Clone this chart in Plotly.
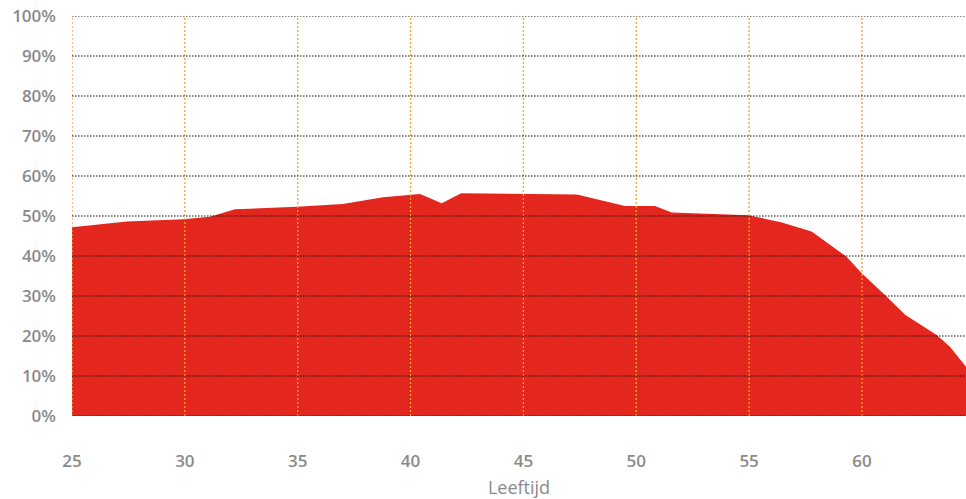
import plotly.graph_objects as go

# Share by age (Leeftijd)
ages = [25.0, 27.44, 29.92, 31.11, 32.22, 34.97, 37.0, 38.78, 40.42, 41.38,
        42.24, 44.98, 47.37, 49.5, 50.83, 51.57, 54.95, 56.37, 57.77, 59.32,
        59.99, 61.1, 61.91, 63.31, 63.9, 64.61]
share = [47.2, 48.6, 49.2, 49.8, 51.7, 52.3, 53.0, 54.7, 55.5, 53.2,
         55.7, 55.5, 55.4, 52.5, 52.5, 50.9, 50.2, 48.5, 46.1, 39.8,
         35.7, 29.8, 25.3, 20.25, 17.3, 12.3]

x_ticks = [25, 30, 35, 40, 45, 50, 55, 60]
y_ticks = [0, 10, 20, 30, 40, 50, 60, 70, 80, 90, 100]
y_labels = [f"{v}%" for v in y_ticks]

RED = "#E3261E"
ORANGE = "#F6A52C"
GREY = "#8A8A8A"
FONT = "Open Sans"

fig = go.Figure()
fig.add_trace(go.Scatter(
    x=ages, y=share, mode="lines", fill="tozeroy",
    fillcolor=RED, line=dict(color=RED, width=0),
    hoverinfo="skip", showlegend=False,
))

shapes = []
# vertical dotted guides at each age tick, drawn over the area
for xv in x_ticks:
    shapes.append(dict(type="line", xref="x", yref="y", x0=xv, x1=xv,
                       y0=y_ticks[0], y1=y_ticks[-1], layer="above",
                       line=dict(color=ORANGE, width=1.3, dash="2px,2px")))
# horizontal dotted guides at each percentage tick
for yv in y_ticks:
    shapes.append(dict(type="line", xref="paper", yref="y", x0=0, x1=1,
                       y0=yv, y1=yv, layer="above",
                       line=dict(color="#111111", width=1.2, dash="1.5px,1.5px")))

fig.update_layout(
    width=966, height=499,
    margin=dict(l=72, r=0, t=16, b=83),
    paper_bgcolor="white", plot_bgcolor="white",
    shapes=shapes,
    xaxis=dict(
        range=[25, ages[-1]], tickvals=x_ticks, ticktext=[str(v) for v in x_ticks],
        showgrid=False, zeroline=False, showline=False, ticks="",
        ticklabelstandoff=33,
        tickfont=dict(family=FONT, size=17, color=GREY, weight=600),
        title=dict(text="Leeftijd", standoff=11,
                   font=dict(family=FONT, size=18, color=GREY, weight=500)),
    ),
    yaxis=dict(
        range=[0, 100], tickvals=y_ticks, ticktext=y_labels,
        showgrid=False, zeroline=False, showline=False, ticks="",
        ticklabelstandoff=15,
        tickfont=dict(family=FONT, size=17, color=GREY, weight=600),
    ),
)

fig.write_html("out.html")
